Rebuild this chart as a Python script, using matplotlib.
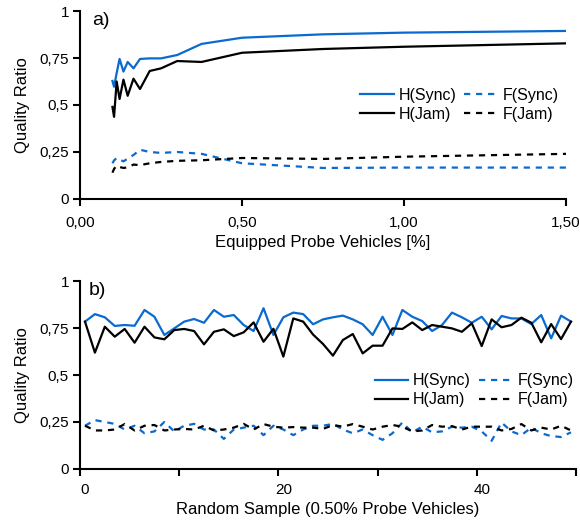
import numpy as np
import matplotlib
matplotlib.use('Agg')
import matplotlib.pyplot as plt
from matplotlib.ticker import FixedLocator, FuncFormatter

plt.rcParams['font.family'] = ['Liberation Sans', 'DejaVu Sans']
plt.rcParams['font.size'] = 12
plt.rcParams['xtick.labelsize'] = 11
plt.rcParams['ytick.labelsize'] = 11

# panel a) quality vs share of equipped probe vehicles
probe_pct = [0.10, 0.105, 0.113, 0.122, 0.134, 0.147, 0.165, 0.185, 0.215, 0.25,
             0.30, 0.375, 0.50, 0.75, 1.00, 1.50]
h_sync_a = [0.628, 0.597, 0.67, 0.745, 0.678, 0.729, 0.695, 0.745, 0.748, 0.748,
            0.766, 0.825, 0.858, 0.876, 0.885, 0.894]
h_jam_a = [0.49, 0.437, 0.625, 0.532, 0.635, 0.549, 0.64, 0.585, 0.681, 0.695,
           0.734, 0.729, 0.778, 0.798, 0.81, 0.828]
f_sync_a = [0.19, 0.205, 0.218, 0.21, 0.20, 0.215, 0.234, 0.262, 0.25, 0.245,
            0.25, 0.24, 0.19, 0.165, 0.167, 0.167]
f_jam_a = [0.14, 0.16, 0.177, 0.17, 0.165, 0.168, 0.183, 0.18, 0.19, 0.197,
           0.203, 0.206, 0.218, 0.213, 0.225, 0.24]

# panel b) 50 random samples at 0.50% probe vehicles
h_sync_b = [0.784, 0.824, 0.807, 0.761, 0.766, 0.762, 0.846, 0.810, 0.713, 0.748,
            0.784, 0.798, 0.778, 0.846, 0.810, 0.819, 0.766, 0.734, 0.855, 0.713,
            0.807, 0.832, 0.824, 0.770, 0.796, 0.807, 0.816, 0.796, 0.770, 0.713,
            0.810, 0.713, 0.846, 0.810, 0.787, 0.734, 0.766, 0.832, 0.807, 0.778,
            0.810, 0.743, 0.814, 0.801, 0.801, 0.771, 0.819, 0.695, 0.816, 0.784]
h_jam_b = [0.784, 0.619, 0.757, 0.704, 0.745, 0.672, 0.757, 0.700, 0.690, 0.739,
           0.745, 0.734, 0.663, 0.730, 0.743, 0.707, 0.727, 0.780, 0.677, 0.746,
           0.598, 0.801, 0.784, 0.715, 0.665, 0.603, 0.686, 0.718, 0.615, 0.656,
           0.656, 0.748, 0.745, 0.780, 0.739, 0.766, 0.757, 0.748, 0.730, 0.775,
           0.654, 0.796, 0.754, 0.766, 0.805, 0.778, 0.674, 0.771, 0.691, 0.784]
f_sync_b = [0.23, 0.26, 0.25, 0.24, 0.21, 0.23, 0.19, 0.20, 0.25, 0.20,
            0.23, 0.24, 0.21, 0.21, 0.16, 0.21, 0.22, 0.23, 0.18, 0.23,
            0.21, 0.18, 0.21, 0.23, 0.23, 0.24, 0.21, 0.19, 0.21, 0.18,
            0.155, 0.19, 0.247, 0.195, 0.225, 0.195, 0.20, 0.225, 0.22, 0.225,
            0.20, 0.15, 0.247, 0.20, 0.18, 0.22, 0.19, 0.175, 0.17, 0.195]
f_jam_b = [0.23, 0.205, 0.205, 0.21, 0.239, 0.205, 0.23, 0.234, 0.205, 0.21,
           0.213, 0.21, 0.23, 0.205, 0.21, 0.22, 0.24, 0.21, 0.239, 0.225,
           0.22, 0.223, 0.22, 0.22, 0.213, 0.234, 0.225, 0.239, 0.225, 0.21,
           0.225, 0.234, 0.225, 0.20, 0.205, 0.234, 0.225, 0.228, 0.21, 0.225,
           0.225, 0.225, 0.205, 0.213, 0.239, 0.205, 0.22, 0.21, 0.23, 0.205]
sample = np.arange(len(h_sync_b))

blue = '#0a6ad0'
lw = 1.6
dash = (0, (2.8, 2.6))

fig = plt.figure(figsize=(5.8, 5.25), dpi=100)
ax1 = fig.add_axes([0.138, 0.621, 0.838, 0.358])
ax2 = fig.add_axes([0.138, 0.1067, 0.855, 0.358])

yfmt = FuncFormatter(lambda v, p: ('%g' % v).replace('.', ','))


def style(ax):
    for s in ['top', 'right']:
        ax.spines[s].set_visible(False)
    for s in ['left', 'bottom']:
        ax.spines[s].set_linewidth(1.5)
    ax.set_ylim(0, 1)
    ax.yaxis.set_major_locator(FixedLocator([0, 0.25, 0.5, 0.75, 1]))
    ax.yaxis.set_major_formatter(yfmt)
    ax.tick_params(axis='y', direction='out', length=5, width=1.5, pad=3)
    ax.set_ylabel('Quality Ratio', labelpad=7)


legend_kw = dict(ncol=2, frameon=False, loc='upper right', borderpad=0,
                 borderaxespad=0, handlelength=2.1, handletextpad=0.3,
                 columnspacing=0.5, labelspacing=0.25, fontsize=11.5)

# top panel
ax1.plot(probe_pct, h_sync_a, color=blue, lw=lw, label='H(Sync)')
ax1.plot(probe_pct, h_jam_a, color='black', lw=lw, label='H(Jam)')
ax1.plot(probe_pct, f_sync_a, color=blue, lw=lw, ls=dash, label='F(Sync)')
ax1.plot(probe_pct, f_jam_a, color='black', lw=lw, ls=dash, label='F(Jam)')
style(ax1)
ax1.set_xlim(0, 1.5)
ax1.set_xticks([0, 0.5, 1.0, 1.5])
ax1.set_xticklabels(['0,00', '0,50', '1,00', '1,50'])
ax1.tick_params(axis='x', direction='out', length=5, width=1.5, pad=7)
ax1.set_xlabel('Equipped Probe Vehicles [%]', labelpad=4)
ax1.text(0.025, 0.995, 'a)', transform=ax1.transAxes, fontsize=14, va='top')
ax1.legend(bbox_to_anchor=(0.985, 0.59), **legend_kw)

# bottom panel, points centred in each sample slot
xb = sample + 0.5
ax2.plot(xb, h_sync_b, color=blue, lw=lw, label='H(Sync)')
ax2.plot(xb, h_jam_b, color='black', lw=lw, label='H(Jam)')
ax2.plot(xb, f_sync_b, color=blue, lw=lw, ls=dash, label='F(Sync)')
ax2.plot(xb, f_jam_b, color='black', lw=lw, ls=dash, label='F(Jam)')
style(ax2)
ax2.set_xlim(0, 50)
ax2.set_xticks([0, 10, 20, 30, 40, 50])
ax2.set_xticklabels([])
ax2.set_xticks([0.5, 20.5, 40.5], minor=True)
ax2.set_xticklabels(['0', '20', '40'], minor=True)
ax2.tick_params(axis='x', which='major', direction='out', length=5, width=1.5)
ax2.tick_params(axis='x', which='minor', length=0, pad=10)
ax2.set_xlabel('Random Sample (0.50% Probe Vehicles)', labelpad=4)
ax2.text(0.018, 0.995, 'b)', transform=ax2.transAxes, fontsize=14, va='top')
ax2.legend(bbox_to_anchor=(0.995, 0.51), **legend_kw)

fig.savefig('out.png', dpi=100)
